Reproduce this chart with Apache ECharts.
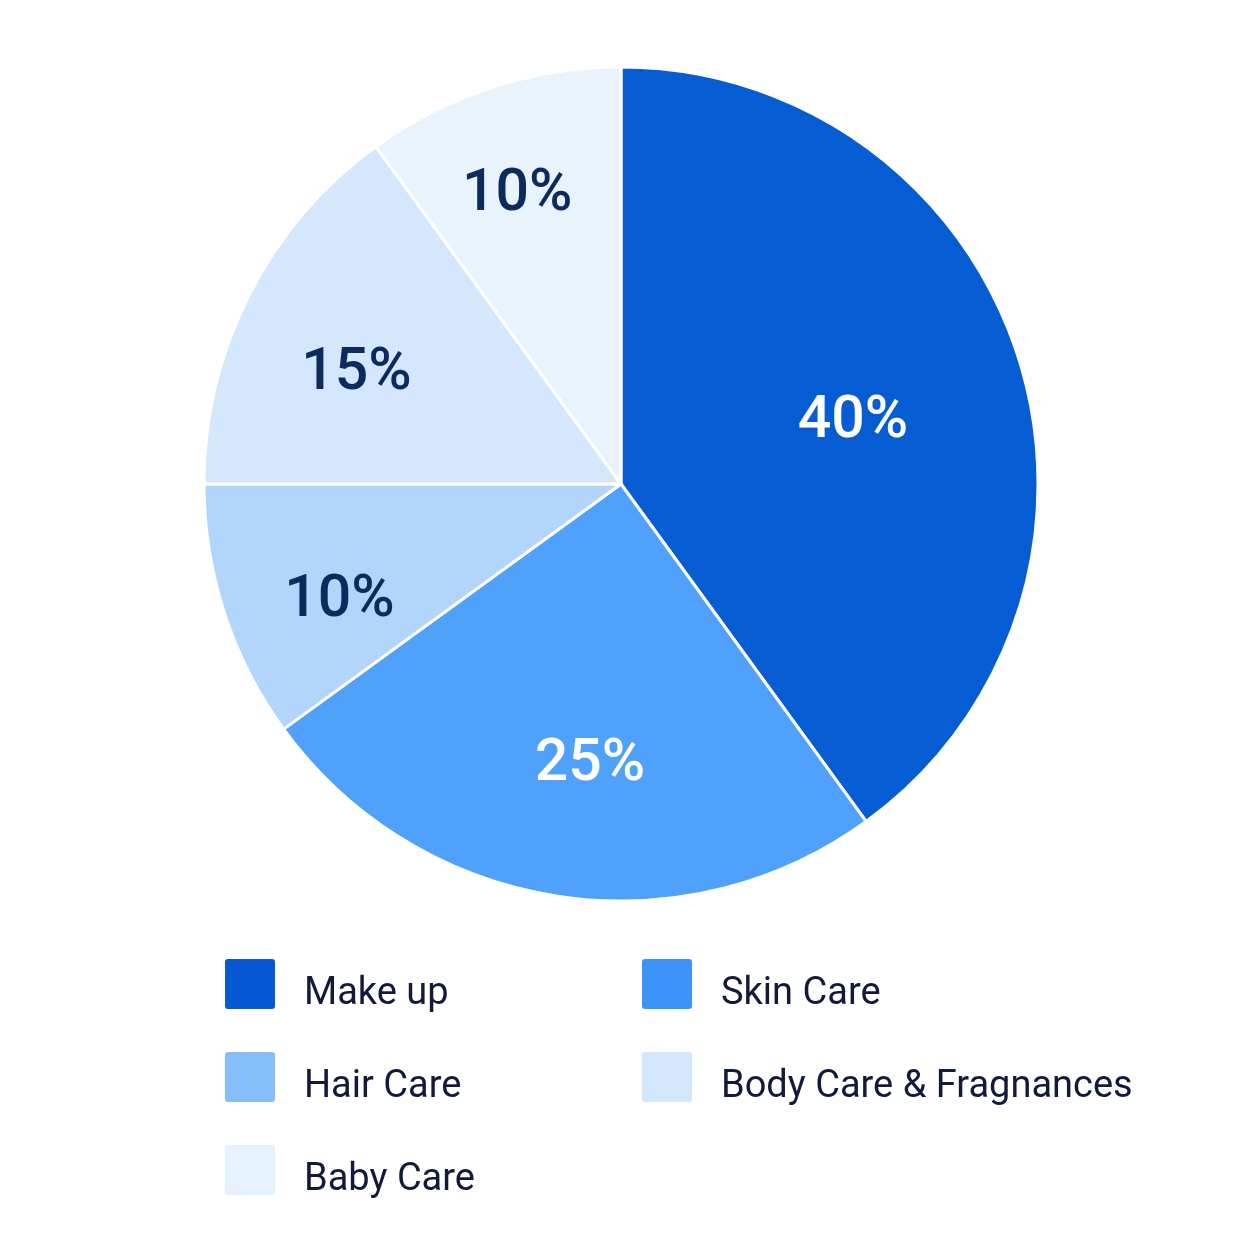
<!DOCTYPE html>
<html>
<head>
<meta charset="utf-8">
<style>
html,body{margin:0;padding:0;background:#ffffff;}
#chart{width:1254px;height:1254px;}
</style>
<script src="https://cdn.jsdelivr.net/npm/echarts@6/dist/echarts.min.js"></script>
</head>
<body>
<div id="chart"></div>
<script>
const categories = ['Make up', 'Skin Care', 'Hair Care', 'Body Care & Fragnances', 'Baby Care'];
const shares = [40, 25, 10, 15, 10];
const sliceColors = ['#065DD3', '#4FA1FB', '#B2D5FC', '#D4E7FC', '#E9F3FE'];
const legendColors = ['#0758D5', '#3D93F7', '#85BEFA', '#D2E6FC', '#E6F1FE'];
const labelColors = ['#FFFFFF', '#FFFFFF', '#0B2A5E', '#0B2A5E', '#0B2A5E'];
const legendRows = [['Make up', 'Skin Care'], ['Hair Care', 'Body Care & Fragnances'], ['Baby Care']];

const FONT = 'Roboto, "Noto Sans", sans-serif';
const R = 417;
const center = [621, 484];
// label placement style per slice: [radius fraction, start angle of label layer]
const labelPlacement = [[0.568, 86.9], [0.672, 92.7], [0.724, 94.6], [0.68, 94.4], [0.728, 91.8]];

const mainData = categories.map((c, i) => ({
  name: c, value: shares[i],
  itemStyle: { color: sliceColors[i] }
}));

function ghost(idx) {
  const [frac, startAngle] = labelPlacement[idx];
  return {
    type: 'pie',
    center: center,
    radius: [0, Math.round(R * frac * 2)],
    startAngle: startAngle,
    clockwise: true,
    silent: true,
    z: 5,
    itemStyle: { color: 'rgba(0,0,0,0)', borderWidth: 0 },
    labelLine: { show: false },
    emphasis: { disabled: true },
    data: categories.map((c, i) => ({
      name: c, value: shares[i],
      itemStyle: { color: 'rgba(0,0,0,0)' },
      label: {
        show: i === idx,
        position: 'inside',
        formatter: '{c}%',
        color: labelColors[i],
        fontFamily: FONT,
        fontSize: 59,
        fontWeight: 500
      }
    }))
  };
}

const legends = legendRows.map((row, r) => ({
  left: 223,
  top: 957 + r * 93,
  padding: 0,
  orient: 'horizontal',
  itemWidth: 52,
  itemHeight: 52,
  itemGap: 18,
  icon: 'path://M4,0 H48 A4,4 0 0 1 52,4 V48 A4,4 0 0 1 48,52 H4 A4,4 0 0 1 0,48 V4 A4,4 0 0 1 4,0 Z',
  selectedMode: false,
  formatter: n => '{s| }{t|' + n + '}',
  data: row.map(n => ({
    name: n,
    itemStyle: { color: legendColors[categories.indexOf(n)] }
  })),
  textStyle: {
    fontFamily: FONT,
    fontSize: 38,
    color: '#111A3A',
    rich: {
      s: { fontSize: 1, width: 1, lineHeight: 58 },
      t: {
        fontFamily: FONT,
        fontSize: 38,
        color: '#111A3A',
        lineHeight: 52,
        verticalAlign: 'bottom',
        width: 318,
        padding: [0, 0, 0, 22]
      }
    }
  }
}));

const series = [
  {
    type: 'pie',
    center: center,
    radius: [0, R],
    startAngle: 90,
    clockwise: true,
    label: { show: false },
    labelLine: { show: false },
    itemStyle: { borderColor: '#ffffff', borderWidth: 3 },
    emphasis: { disabled: true },
    data: mainData
  }
];
categories.forEach((c, i) => series.push(ghost(i)));

const chart = echarts.init(document.getElementById('chart'), null, { renderer: 'canvas' });
chart.setOption({
  backgroundColor: '#ffffff',
  animation: false,
  legend: legends,
  series: series
});
</script>
</body>
</html>
